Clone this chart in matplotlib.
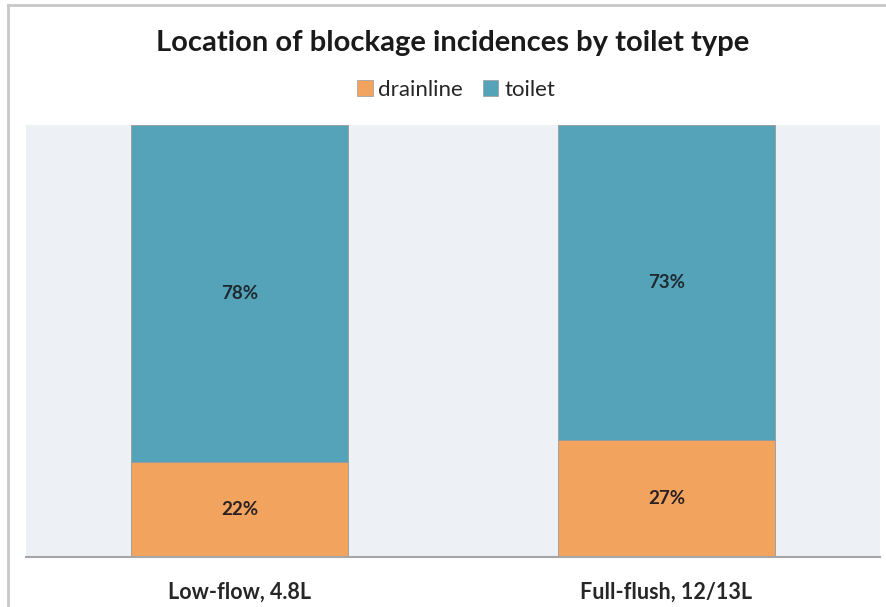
import numpy as np
import matplotlib
matplotlib.use("Agg")
from matplotlib import pyplot as plt
from matplotlib.lines import Line2D
from matplotlib.patches import Patch

# toilet types and share of blockages by location (%)
categories = ["Low-flow, 4.8L", "Full-flush, 12/13L"]
drainline = [22, 27]
toilet = [78, 73]
series_names = ["drainline", "toilet"]

c_drain = "#F2A35E"
c_toilet = "#55A3B8"
FONT = ["Lato", "DejaVu Sans"]

fig = plt.figure(figsize=(8.86, 6.07), dpi=100)
W, H = 886, 607
ax = fig.add_axes([26 / W, 1 - 557 / H, (880 - 26) / W, (557 - 125) / H])
ax.set_facecolor("#EDF1F6")

x = np.arange(len(categories))
b1 = ax.bar(x, drainline, 0.51, color=c_drain, edgecolor="#9A9A9A", linewidth=0.6)
b2 = ax.bar(x, toilet, 0.51, bottom=drainline, color=c_toilet,
            edgecolor="#9A9A9A", linewidth=0.6)

for i in range(len(categories)):
    ax.text(x[i], drainline[i] / 2, "%d%%" % drainline[i], ha="center", va="center",
            fontsize=13.5, fontweight="bold", color="#2A2222", family=FONT)
    ax.text(x[i], drainline[i] + toilet[i] / 2, "%d%%" % toilet[i], ha="center",
            va="center", fontsize=13.5, fontweight="bold", color="#1E2A30", family=FONT)

ax.set_xlim(-0.5, 1.5)
ax.set_ylim(0, 100)
ax.set_yticks([])
ax.set_xticks(x)
ax.set_xticklabels(categories, fontsize=15.5, fontweight="bold", color="#262626",
                   family=FONT)
ax.tick_params(axis="x", length=0, pad=18)
for s in ["top", "left", "right"]:
    ax.spines[s].set_visible(False)
ax.spines["bottom"].set_color("#A6A6A6")
ax.spines["bottom"].set_linewidth(1.5)

fig.text(453 / W, 1 - 43 / H, "Location of blockage incidences by toilet type",
         ha="center", va="center", fontsize=21, fontweight="bold",
         color="#1A1A1A", family=FONT)

handles = [Patch(facecolor=c_drain, edgecolor="#9A9A9A", linewidth=0.5),
           Patch(facecolor=c_toilet, edgecolor="#9A9A9A", linewidth=0.5)]
fig.legend(handles, series_names, loc="center", bbox_to_anchor=(456 / W, 1 - 90 / H),
           ncol=2, frameon=False, prop={"family": FONT, "size": 16},
           handlelength=0.7, handleheight=0.7, handletextpad=0.25, columnspacing=0.9,
           labelcolor="#262626")

# chart frame edges
fig.add_artist(Line2D([8 / W, 8 / W], [0, 1 - 5 / H], color="#C8C8C8", linewidth=2,
                      transform=fig.transFigure))
fig.add_artist(Line2D([8 / W, 1], [1 - 5 / H, 1 - 5 / H], color="#C8C8C8", linewidth=2,
                      transform=fig.transFigure))

fig.savefig("out.png", dpi=100)
